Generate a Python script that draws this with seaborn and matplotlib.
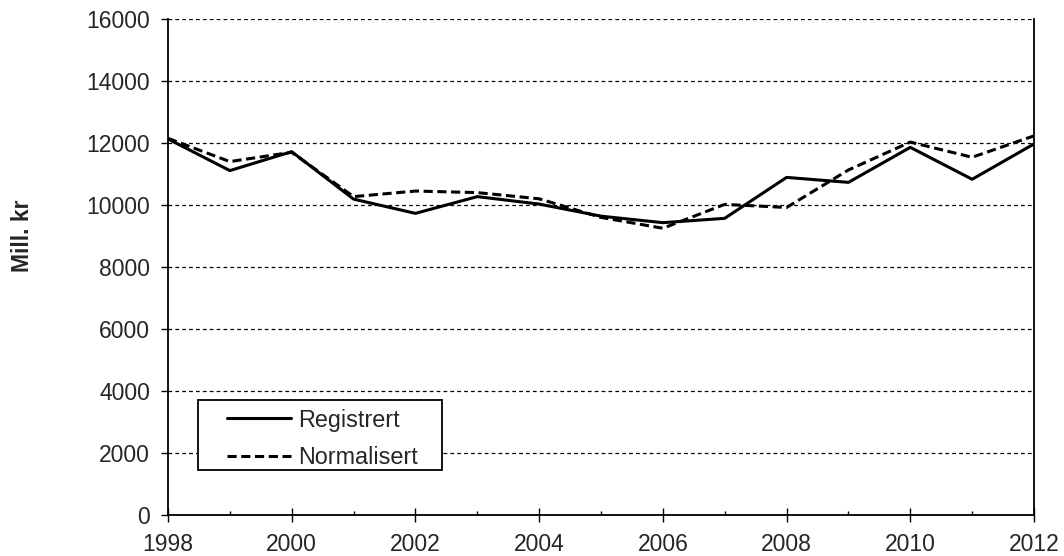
import matplotlib
matplotlib.use("Agg")
import matplotlib.pyplot as plt
from matplotlib.patches import Rectangle
from matplotlib.ticker import MultipleLocator
import seaborn as sns
import pandas as pd

years = list(range(1998, 2013))
registrert = [12130, 11110, 11720, 10190, 9730, 10270, 10030, 9640, 9430, 9570, 10890, 10730, 11860, 10830, 11970]
normalisert = [12150, 11400, 11700, 10270, 10450, 10400, 10200, 9600, 9250, 10020, 9920, 11130, 12030, 11540, 12230]
series_names = ["Registrert", "Normalisert"]
y_ticks = list(range(0, 16001, 2000))
x_ticks = list(range(1998, 2013, 2))

df = pd.DataFrame({
    "År": years * 2,
    "Verdi": registrert + normalisert,
    "Serie": [series_names[0]] * len(years) + [series_names[1]] * len(years),
})

sns.set_style("white")
plt.rcParams['font.family'] = ['Liberation Sans', 'DejaVu Sans']

W, H = 1064, 556
L, R, T, B = 168, 1034, 19, 515
fig = plt.figure(figsize=(W / 100, H / 100), dpi=100)
ax = fig.add_axes([L / W, 1 - B / H, (R - L) / W, (B - T) / H])

sns.lineplot(data=df, x="År", y="Verdi", hue="Serie", style="Serie",
             palette=["black", "black"], dashes={"Registrert": "", "Normalisert": (3, 1.5)},
             linewidth=2.2, ax=ax, legend=True)

ax.set_xlim(1998, 2012)
ax.set_ylim(0, 16000)
ax.set_xticks(x_ticks)
ax.set_yticks(y_ticks)
ax.xaxis.set_minor_locator(MultipleLocator(1))
ax.tick_params(axis="y", labelsize=16.5, direction="out", length=5, width=1,
               color="black", pad=8, left=True)
ax.tick_params(axis="x", which="major", labelsize=16.5, direction="inout", length=10,
               width=1, color="black", pad=8, bottom=True)
ax.tick_params(axis="x", which="minor", direction="in", length=3, width=1,
               color="black", bottom=True)
for yv in y_ticks[1:]:
    ax.axhline(yv, color="black", lw=0.9, ls=(0, (3, 2.5)), zorder=0)
for side in ["left", "bottom", "right"]:
    ax.spines[side].set_color("black")
    ax.spines[side].set_linewidth(1.3)
ax.spines["top"].set_visible(False)

ax.set_xlabel("")
ax.set_ylabel("Mill. kr", fontsize=16.5, fontweight="bold", labelpad=0)
ax.yaxis.set_label_coords((34 - L) / (R - L), (B - 236) / (B - T))

# legend box
bx0, by0, bx1, by1 = 198, 400, 442, 470
box = Rectangle(((bx0 - L) / (R - L), (B - by1) / (B - T)),
                (bx1 - bx0) / (R - L), (by1 - by0) / (B - T),
                transform=ax.transAxes, facecolor="white", edgecolor="black",
                linewidth=1.3, zorder=5)
ax.add_patch(box)

handles, labels = ax.get_legend_handles_labels()
leg = ax.legend(handles, labels, loc="upper left",
                bbox_to_anchor=((222 - L) / (R - L), (B - 404) / (B - T)),
                borderaxespad=0, fontsize=16.8, frameon=False,
                handlelength=2.75, handletextpad=0.3,
                borderpad=0.2, labelspacing=0.62)
leg.set_zorder(6)
for line in leg.get_lines():
    line.set_linewidth(2.2)

fig.savefig("out.png", dpi=100)
